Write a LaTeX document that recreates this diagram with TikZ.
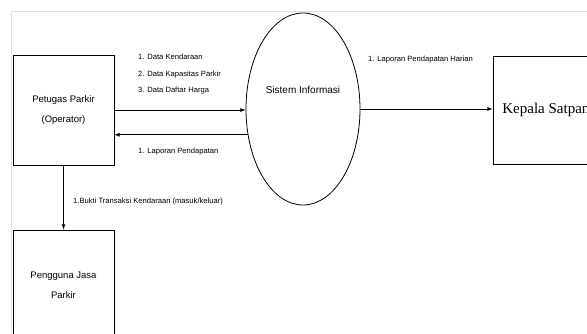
\documentclass[tikz,border=0pt]{standalone}
\usepackage{fontspec}
\setmainfont{Liberation Sans}
\newfontfamily\serifbig{Liberation Serif}
\usetikzlibrary{arrows,shapes.geometric}

\tikzset{
    entity/.style={draw, thick, rectangle, minimum width=101pt, minimum height=110pt,
        align=center, font=\fontsize{9.5}{20}\selectfont, inner sep=0pt},
    process/.style={draw, thick, ellipse, minimum width=114pt, minimum height=192pt,
        inner sep=0pt, font=\fontsize{10}{12}\selectfont},
    flow/.style={-latex, thick},
    flowlabel/.style={anchor=west, align=left, inner sep=0pt,
        font=\fontsize{7.6}{16.5}\selectfont}
}

\begin{document}
\begin{tikzpicture}[x=1pt, y=1pt]
    \useasboundingbox (0,0) rectangle (587,333);

    % Faint page frame
    \draw[black!12, line width=1pt] (11,0) -- (11,321) -- (600,321);

    % External entities and process
    \node[entity] (petugas) at (63.5,223) {Petugas Parkir\\(Operator)};
    \node[process] (sistem) at (303,224) {};
    \node at (303,243) {\fontsize{10}{12}\selectfont Sistem Informasi};
    \node[entity, minimum width=110pt, minimum height=108pt, font=\serifbig\fontsize{15}{18}\selectfont] (kepala) at (548,223) {Kepala Satpam};
    \node[entity] (pengguna) at (63.5,48) {Pengguna Jasa\\Parkir};

    % Data flows
    \draw[flow] (petugas.east) -- (petugas.east -| sistem.west);
    \draw[flow] (sistem.205) -- (sistem.205 -| petugas.east);
    \draw[flow] (sistem.east) -- (sistem.east -| kepala.west);
    \draw[flow] (petugas.south) -- (pengguna.north);

    % Labels for the flows
    \node[flowlabel] (datamasuk) at (138,258.5) {1. Data Kendaraan\\2. Data Kapasitas Parkir\\3. Data Daftar Harga};
    \node[flowlabel] (laporan) at (138,181) {1. Laporan Pendapatan};
    \node[flowlabel] (laporanharian) at (368,273) {1. Laporan Pendapatan Harian};
    \node[flowlabel] (bukti) at (73,131) {1.Bukti Transaksi Kendaraan (masuk/keluar)};
\end{tikzpicture}
\end{document}
